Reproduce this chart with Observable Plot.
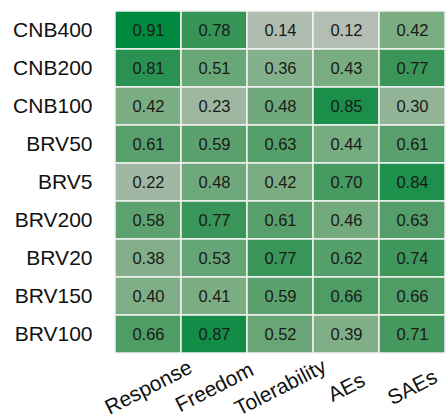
<!DOCTYPE html>
<html>
<head>
<meta charset="utf-8">
<script src="https://cdn.jsdelivr.net/npm/d3@7"></script>
<script src="https://cdn.jsdelivr.net/npm/@observablehq/plot@0.6"></script>
<style>
  html, body { margin: 0; padding: 0; background: #fff; overflow: hidden; }
  #chart svg { display: block; }
</style>
</head>
<body>
<div id="chart"></div>
<script>
const rows = ["CNB400", "CNB200", "CNB100", "BRV50", "BRV5", "BRV200", "BRV20", "BRV150", "BRV100"];
const columns = ["Response", "Freedom", "Tolerability", "AEs", "SAEs"];
const values = [
  [0.91, 0.78, 0.14, 0.12, 0.42],
  [0.81, 0.51, 0.36, 0.43, 0.77],
  [0.42, 0.23, 0.48, 0.85, 0.30],
  [0.61, 0.59, 0.63, 0.44, 0.61],
  [0.22, 0.48, 0.42, 0.70, 0.84],
  [0.58, 0.77, 0.61, 0.46, 0.63],
  [0.38, 0.53, 0.77, 0.62, 0.74],
  [0.40, 0.41, 0.59, 0.66, 0.66],
  [0.66, 0.87, 0.52, 0.39, 0.71]
];
const colorStops = [0.12, 0.42, 0.77, 0.91];
const colorRange = ["#b3bdb3", "#7aad82", "#3a9558", "#008a40"];

const cells = [];
rows.forEach((r, i) => columns.forEach((c, j) => cells.push({row: r, col: c, value: values[i][j]})));

const chart = Plot.plot({
  width: 446,
  height: 420,
  marginLeft: 113,
  marginRight: 0,
  marginTop: 9,
  marginBottom: 66,
  style: {fontFamily: "'Liberation Sans', Arial, sans-serif", background: "#fff"},
  x: {domain: columns, padding: 0, label: null},
  y: {domain: rows, padding: 0, label: null},
  color: {type: "linear", domain: colorStops, range: colorRange, interpolate: "rgb"},
  marks: [
    Plot.cell(cells, {x: "col", y: "row", fill: "value", stroke: "#f2f2f2", strokeWidth: 1.5}),
    Plot.text(cells, {x: "col", y: "row", text: d => d.value.toFixed(2), fontSize: 16.5, fill: "#1a1a1a"}),
    Plot.axisY({tickSize: 0, tickPadding: 21, fontSize: 21, fill: "#111", label: null}),
    Plot.axisX({tickSize: 0, tickPadding: 33, tickRotate: -27, textAnchor: "middle", fontSize: 21, fill: "#111", label: null})
  ]
});
document.getElementById("chart").appendChild(chart);
</script>
</body>
</html>
